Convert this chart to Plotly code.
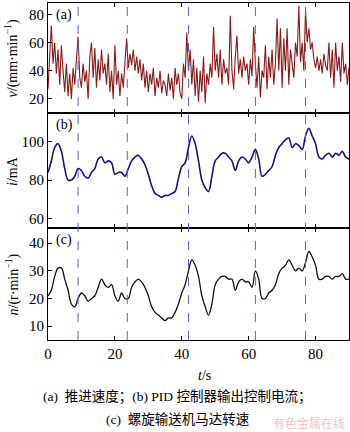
import numpy as np
import plotly.graph_objects as go
from plotly.subplots import make_subplots

# ---- data ----
t_a = [i * 0.5 for i in range(181)]
v_speed = [
    27, 50, 72, 45, 60, 38, 55, 30, 58, 40,
    25, 45, 22, 38, 20, 42, 30, 48, 64, 35,
    28, 45, 32, 40, 20, 50, 60, 35, 56, 28,
    48, 33, 55, 38, 45, 30, 52, 25, 40, 20,
    58, 30, 40, 22, 38, 28, 45, 63, 42, 52,
    44, 55, 40, 50, 38, 48, 33, 45, 28, 40,
    25, 38, 30, 42, 22, 35, 28, 40, 24, 33,
    30, 22, 38, 26, 35, 20, 42, 30, 38, 24,
    20, 45, 35, 67, 40, 55, 30, 48, 22, 42,
    18, 40, 25, 50, 17, 38, 30, 45, 35, 71,
    40, 52, 35, 55, 30, 48, 38, 42, 30, 79,
    40, 27, 50, 65, 38, 48, 35, 50, 40, 45,
    30, 48, 36, 71, 45, 28, 50, 21, 40, 35,
    58, 27, 50, 35, 55, 30, 45, 77, 40, 70,
    28, 63, 40, 70, 30, 55, 45, 35, 60, 50,
    86, 46, 60, 40, 83, 60, 70, 55, 60, 48,
    42, 50, 40, 48, 38, 52, 44, 40, 60, 35,
    55, 28, 60, 40, 50, 32, 60, 38, 45, 30,
    42,
]
t_bc = list(range(91))
i_current = [
    84, 90, 97, 99, 95, 86, 80, 80, 82, 86,
    85, 82, 81, 84, 86, 91, 92, 89, 90, 89,
    83, 84, 84, 82, 86, 90, 92, 93, 91, 88,
    83, 77, 73, 72, 71, 72, 72, 73, 74, 81,
    87, 89, 97, 103, 99, 90, 80, 76, 74, 82,
    90, 92, 94, 94, 92, 90, 85, 90, 92, 91,
    89, 92, 96, 91, 82, 83, 85, 87, 93, 97,
    99, 101, 102, 97, 99, 98, 96, 103, 107, 103,
    99, 92, 91, 93, 94, 92, 94, 93, 95, 92,
    91,
]
n_speed = [
    21, 23, 28, 31, 31, 27, 23, 18, 17, 20,
    22, 21, 19, 20, 21, 24, 27, 25, 24, 25,
    21, 19, 22, 20, 20, 24, 26, 27, 26, 24,
    21, 17, 15, 14, 13, 12, 13, 13, 15, 18,
    22, 25, 30, 34, 32, 28, 21, 17, 14, 18,
    25, 27, 28, 28, 27, 27, 23, 26, 27, 26,
    26, 24, 30, 27, 20, 20, 22, 23, 25, 29,
    31, 32, 34, 32, 30, 31, 30, 33, 37, 35,
    32, 27, 27, 28, 28, 27, 28, 28, 29, 27,
    27,
]
event_times = [9, 23.7, 42, 62, 77]
x_ticks = [0, 20, 40, 60, 80]
ticks_a = [20, 40, 60, 80]
ticks_b = [60, 80, 100]
ticks_c = [10, 20, 30, 40]

SERIF = "Liberation Serif, Times New Roman, serif"
CAP = "Liberation Serif, Noto Sans CJK SC, serif"

fig = make_subplots(rows=3, cols=1, shared_xaxes=True, vertical_spacing=0,
                    row_heights=[110, 115, 112])

fig.add_trace(go.Scatter(x=t_a, y=v_speed, mode="lines",
                         line=dict(color="#8B1A1A", width=1.1)), row=1, col=1)
fig.add_trace(go.Scatter(x=t_bc, y=i_current, mode="lines", line_shape="spline",
                         line=dict(color="#14147A", width=1.6)), row=2, col=1)
fig.add_trace(go.Scatter(x=t_bc, y=n_speed, mode="lines", line_shape="spline",
                         line=dict(color="#111111", width=1.3)), row=3, col=1)

for r in (1, 2, 3):
    fig.update_xaxes(row=r, col=1, range=[0, 90], tickvals=x_ticks,
                     showline=True, linecolor="black", linewidth=1.2, mirror="ticks",
                     ticks="inside", ticklen=4, tickcolor="black",
                     showgrid=False, zeroline=False,
                     showticklabels=(r == 3),
                     tickfont=dict(family=SERIF, size=15, color="black"))

yconf = [(1, [10, 88], ticks_a), (2, [55, 115], ticks_b), (3, [5, 45.5], ticks_c)]
for r, rng, tv in yconf:
    fig.update_yaxes(row=r, col=1, range=rng, tickvals=tv,
                     showline=True, linecolor="black", linewidth=1.2, mirror=True,
                     ticks="inside", ticklen=4, tickcolor="black",
                     showgrid=False, zeroline=False,
                     tickfont=dict(family=SERIF, size=15, color="black"))

for xe in event_times:
    fig.add_shape(type="line", xref="x", yref="paper", x0=xe, x1=xe, y0=0, y1=1,
                  line=dict(color="#5565C8", width=1.0, dash="dash"), layer="above")

ann = []
# panel labels
for lab, yref in (("(a)", "y domain"), ("(b)", "y2 domain"), ("(c)", "y3 domain")):
    ann.append(dict(text=lab, xref="x domain", yref=yref, x=0.02, y=0.98,
                    xanchor="left", yanchor="top", showarrow=False,
                    font=dict(family=SERIF, size=14, color="black")))
# y titles
titles = [("<i>v</i>/(mm·min<sup>−1</sup>)", "y domain"),
          ("<i>i</i>/mA", "y2 domain"),
          ("<i>n</i>/(r·min<sup>−1</sup>)", "y3 domain")]
for txt, yref in titles:
    ann.append(dict(text=txt, xref="paper", yref=yref, x=-0.118, y=0.5,
                    xanchor="center", yanchor="middle", textangle=-90, showarrow=False,
                    font=dict(family=SERIF, size=14, color="black")))
ann.append(dict(text="<i>t</i>/s", xref="paper", yref="paper", x=0.52, y=-0.104,
                xanchor="center", yanchor="middle", showarrow=False,
                font=dict(family=SERIF, size=14, color="black")))
ann.append(dict(text="(a)  推进速度；(b) PID 控制器输出控制电流；", xref="paper", yref="paper",
                x=0.43, y=-0.168, xanchor="center", yanchor="middle", showarrow=False,
                font=dict(family=CAP, size=13.5, color="black")))
ann.append(dict(text="(c)  螺旋输送机马达转速", xref="paper", yref="paper",
                x=0.43, y=-0.237, xanchor="center", yanchor="middle", showarrow=False,
                font=dict(family=CAP, size=13.5, color="black")))
ann.append(dict(text="有色金属在线", xref="paper", yref="paper",
                x=0.995, y=-0.245, xanchor="right", yanchor="middle", showarrow=False,
                font=dict(family="Noto Sans CJK SC", size=12, color="rgba(230,140,140,0.55)")))

fig.update_layout(width=350, height=432, margin=dict(l=48, r=1, t=3, b=92),
                  paper_bgcolor="white", plot_bgcolor="white", showlegend=False,
                  annotations=ann)
fig.write_html("out.html")
